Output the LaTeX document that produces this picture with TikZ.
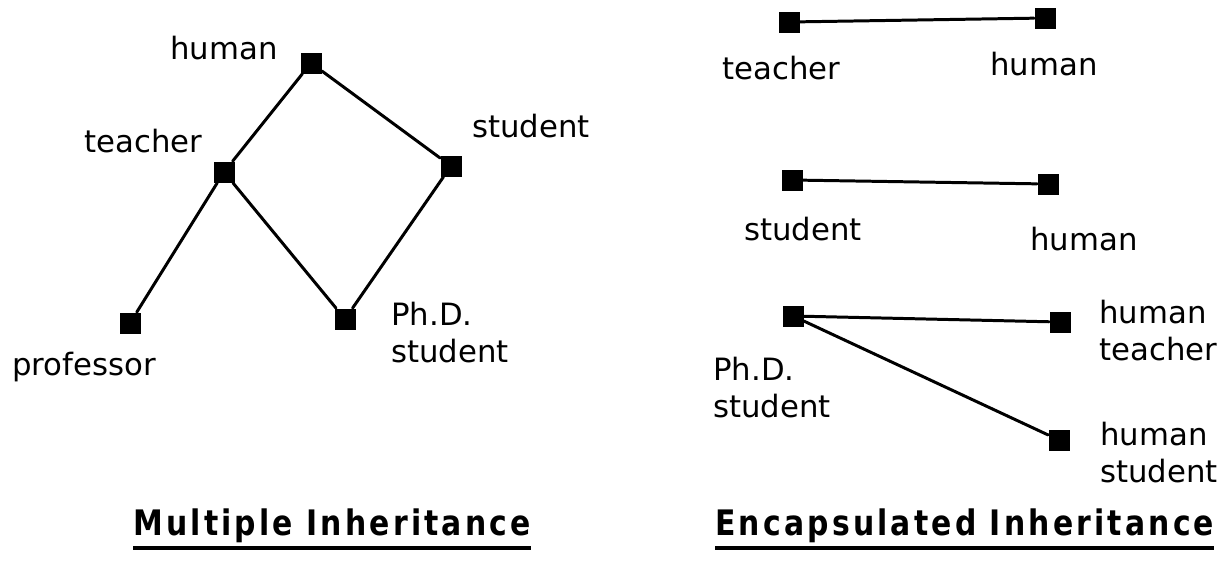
\documentclass[tikz,border=0pt]{standalone}
\usepackage{fontspec}
\setmainfont{DejaVu Sans}
\newfontfamily\titlefont{DejaVu Sans}[FakeStretch=0.85,LetterSpace=9]
\usetikzlibrary{positioning}
\tikzset{
  cls/.style ={rectangle, fill=black, minimum size=0.42cm, inner sep=0pt},
  lbl/.style ={font=\fontsize{17.5}{21}\selectfont, inner sep=0pt,
               anchor=base west, align=left},
  gline/.style={line width=1.7pt, black, line cap=round},
  ttl/.style ={font=\titlefont\bfseries\fontsize{20}{24}\selectfont,
               inner sep=0pt, anchor=base west},
  uline/.style={line width=2.4pt, black},
}
\begin{document}
\begin{tikzpicture}[x=0.02cm, y=-0.02cm]
  \useasboundingbox (0,0) rectangle (1229,566);
  % multiple inheritance
  \node[cls] (lH) at (311,63)  {};
  \node[cls] (lT) at (224,172) {};
  \node[cls] (lS) at (451,166) {};
  \node[cls] (lP) at (130,323) {};
  \node[cls] (lD) at (345,319) {};
  \foreach \a/\b in {lH/lT, lH/lS, lT/lP, lT/lD, lS/lD} {
    \draw[gline] (\a) -- (\b);
  }
  \node[lbl] (lHl) at (170,59)  {human};
  \node[lbl] (lTl) at (84,152)  {teacher};
  \node[lbl] (lSl) at (472,137) {student};
  \node[lbl] (lPl) at (12,375)  {professor};
  \node[lbl] (lDl) at (391,362) {Ph.D.\\student};
  % encapsulated inheritance
  \node[cls] (rT)  at (789,22)   {};
  \node[cls] (rTH) at (1045,18)  {};
  \node[cls] (rS)  at (792,180)  {};
  \node[cls] (rSH) at (1048,184) {};
  \node[cls] (rD)  at (793,316)  {};
  \node[cls] (rDT) at (1060,322) {};
  \node[cls] (rDS) at (1059,440) {};
  \foreach \a/\b in {rT/rTH, rS/rSH, rD/rDT, rD/rDS} {
    \draw[gline] (\a) -- (\b);
  }
  \node[lbl] (rTl)  at (722,79)   {teacher};
  \node[lbl] (rTHl) at (990,75)   {human};
  \node[lbl] (rSl)  at (744,240)  {student};
  \node[lbl] (rSHl) at (1030,250) {human};
  \node[lbl] (rDl)  at (713,417)  {Ph.D.\\student};
  \node[lbl] (rDTl) at (1099,360) {human\\teacher};
  \node[lbl] (rDSl) at (1100,482) {human\\student};
  % titles
  \node[ttl] (mt) at (133,535) {Multiple Inheritance};
  \node[ttl] (et) at (715,535) {Encapsulated Inheritance};
  \draw[uline] ([yshift=-3pt]mt.south west) -- ([yshift=-3pt]mt.south east);
  \draw[uline] ([yshift=-3pt]et.south west) -- ([yshift=-3pt]et.south east);
\end{tikzpicture}
\end{document}
